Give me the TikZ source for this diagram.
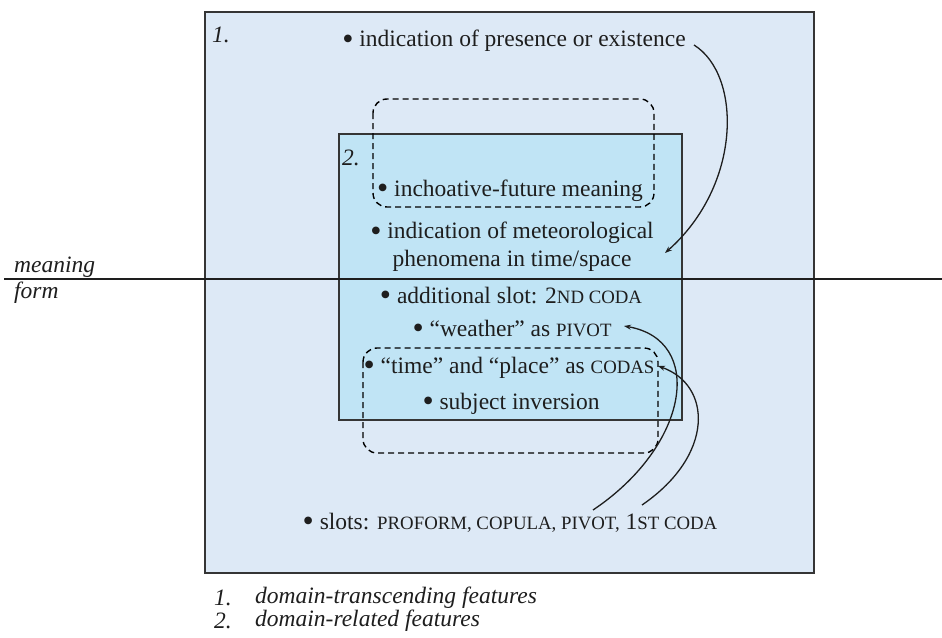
\documentclass[tikz,border=0pt]{standalone}
\usepackage{fontspec}
\setmainfont{Liberation Serif}
\usetikzlibrary{arrows.meta}
\definecolor{outerblue}{RGB}{221,233,246}
\definecolor{innerblue}{RGB}{192,228,245}
\definecolor{ink}{RGB}{30,30,30}
\newcommand\fsc[1]{{\fontsize{18.8}{22}\selectfont #1}}
\newcommand\bul{{\fontsize{32}{22}\selectfont\raisebox{-0.07em}{\textbullet}}}
\tikzset{
  box/.style={draw=ink!90, line width=1.3pt},
  dashbox/.style={draw=black, dashed, dash pattern=on 6pt off 4pt, line width=1.4pt, rounded corners=14pt},
  txt/.style={inner sep=0pt, text=ink, font=\fontsize{23.5}{28}\selectfont, align=center},
  itxt/.style={inner sep=0pt, text=ink, font=\fontsize{23.5}{28}\selectfont\itshape},
  conn/.style={draw=ink, line width=1.3pt, -{Stealth[length=7pt,width=5pt]}}
}
\begin{document}
\begin{tikzpicture}[x=1pt,y=-1pt]
\useasboundingbox (0,0) rectangle (942,637);
\fill[white] (0,0) rectangle (942,637);
% boxes
\draw[box, fill=outerblue] (205,12) rectangle (814,573);
\draw[box, fill=innerblue] (339,134) rectangle (682,420);
\draw[dashbox] (373,99) rectangle (654,207);
\draw[dashbox] (363,348) rectangle (658,453);
% divider
\draw[draw=ink, line width=1.3pt] (4,279) -- (942,279);
% labels
\node[itxt] (n1) at (221,35) {1.};
\node[itxt] (n2) at (351,158) {2.};
\node[itxt, anchor=west] (meaning) at (14,267) {meaning};
\node[itxt, anchor=west] (form) at (14,293) {form};
\node[txt] (exist) at (514,41) {\bul{} indication of presence or existence};
\node[txt] (incho) at (510,191) {\bul{} inchoative-future meaning};
\node[txt] (meteo) at (512,247) {\bul{} indication of meteorological\\phenomena in time/space};
\node[txt] (addslot) at (511,296) {\bul{} additional slot: 2\fsc{ND CODA}};
\node[txt] (weather) at (512,329) {\bul{} “weather” as \fsc{PIVOT}};
\node[txt] (timeplace) at (509,368) {\bul{} “time” and “place” as \fsc{CODAS}};
\node[txt] (subj) at (511,404) {\bul{} subject inversion};
\node[txt] (slots) at (510,523) {\bul{} slots: \fsc{PROFORM, COPULA, PIVOT,} 1\fsc{ST CODA}};
% legend
\node[itxt, anchor=west] (l1) at (214,598) {1.};
\node[itxt, anchor=west] (l1t) at (255,598) {domain-transcending features};
\node[itxt, anchor=west] (l2) at (214,621) {2.};
\node[itxt, anchor=west] (l2t) at (255,621) {domain-related features};
% connectors
\coordinate (a1s) at (694,45);
\coordinate (a1e) at (665,253);
\draw[conn] (a1s) .. controls (742,75) and (742,185) .. (a1e);
\coordinate (a2s) at (593,510);
\coordinate (a2e) at (624,326);
\draw[conn] (a2s) .. controls (690,445) and (705,340) .. (a2e);
\coordinate (a3s) at (642,505);
\coordinate (a3e) at (658,366);
\draw[conn] (a3s) .. controls (715,455) and (712,385) .. (a3e);
\end{tikzpicture}
\end{document}
